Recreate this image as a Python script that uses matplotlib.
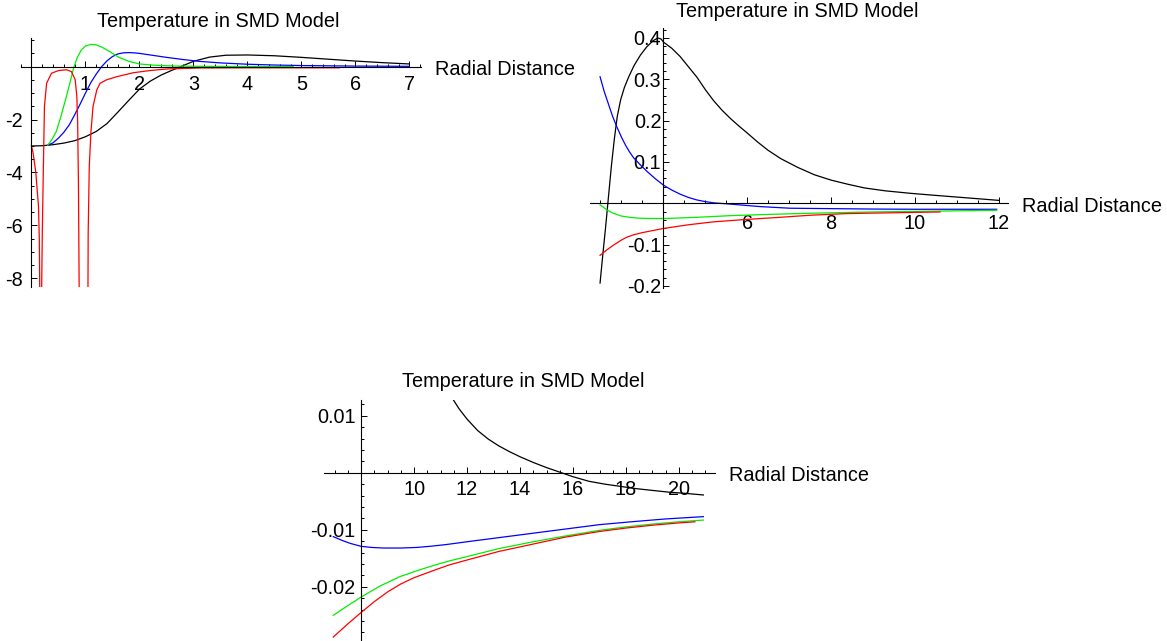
import numpy as np
import matplotlib
matplotlib.use("Agg")
import matplotlib.pyplot as plt

plt.rcParams['font.family'] = ['Liberation Sans', 'DejaVu Sans']
plt.rcParams['axes.unicode_minus'] = False

W, H = 1167, 641

# ---- panel 1 (r from 0 to 7) ----
p1_black_x = [0, 0.2, 0.4, 0.6, 0.8, 1.0, 1.2, 1.4, 1.6, 1.8, 2.0, 2.2, 2.4, 2.6, 2.8,
              3.0, 3.3, 3.6, 4.0, 4.5, 5.0, 5.5, 6.0, 6.5, 7.0]
p1_black_y = [-3.0, -2.99, -2.95, -2.89, -2.80, -2.65, -2.45, -2.15, -1.72, -1.28, -0.85,
              -0.55, -0.32, -0.14, 0.03, 0.2, 0.36, 0.43, 0.44, 0.41, 0.35, 0.28, 0.21, 0.15, 0.1]
p1_blue_x = [0.3, 0.4, 0.5, 0.6, 0.7, 0.8, 0.9, 1.0, 1.1, 1.2, 1.3, 1.4, 1.5, 1.6, 1.7,
             1.8, 1.9, 2.0, 2.2, 2.5, 2.8, 3.1, 3.5, 4.0, 4.5, 5.0, 6.0, 7.0]
p1_blue_y = [-2.97, -2.88, -2.7, -2.48, -2.2, -1.82, -1.42, -1.0, -0.6, -0.28, 0.0, 0.22,
             0.38, 0.48, 0.52, 0.53, 0.52, 0.5, 0.44, 0.35, 0.27, 0.2, 0.14, 0.09, 0.06,
             0.04, 0.02, 0.01]
p1_green_x = [0.3, 0.38, 0.46, 0.55, 0.65, 0.72, 0.78, 0.85, 0.92, 1.0, 1.1, 1.2, 1.3,
              1.45, 1.6, 1.8, 2.0, 2.3, 2.7, 3.2, 4.0, 4.85]
p1_green_y = [-2.97, -2.75, -2.45, -1.85, -1.1, -0.55, -0.05, 0.35, 0.62, 0.78, 0.84, 0.82,
              0.74, 0.57, 0.37, 0.2, 0.1, 0.05, 0.02, 0.01, 0.005, 0.003]
# red has two poles, so it is kept as three branches
p1_red_a_x = [0, 0.03, 0.08, 0.13, 0.145, 0.155]
p1_red_a_y = [-3.0, -3.27, -4.0, -5.3, -6.55, -9.0]
p1_red_b_x = [0.185, 0.2, 0.22, 0.24, 0.28, 0.37, 0.5, 0.65, 0.74, 0.81, 0.84, 0.855, 0.87, 0.885]
p1_red_b_y = [-9.0, -6.3, -3.8, -1.5, -0.63, -0.25, -0.15, -0.12, -0.19, -0.5, -1.13, -2.1,
              -4.5, -9.0]
p1_red_c_x = [1.045, 1.05, 1.07, 1.1, 1.14, 1.21, 1.27, 1.39, 1.58, 1.89, 2.19, 2.5, 3.12,
              4.0, 5.0, 5.7]
p1_red_c_y = [-9.0, -6.3, -3.8, -2.5, -1.5, -0.88, -0.63, -0.5, -0.38, -0.23, -0.15, -0.09,
              -0.05, -0.045, -0.045, -0.045]

# ---- panel 2 (r from 2.5 to 12) ----
p2_black_x = [2.49, 2.55, 2.62, 2.69, 2.76, 2.83, 2.9, 2.98, 3.07, 3.17, 3.3, 3.45, 3.6,
              3.75, 3.87, 3.95, 4.0, 4.2, 4.4, 4.6, 4.8, 5.0, 5.2, 5.4, 5.6, 5.8, 6.0, 6.25,
              6.5, 6.8, 7.2, 7.6, 8.0, 8.4, 8.8, 9.3, 9.9, 10.5, 11.0, 11.5, 12.0]
p2_black_y = [-0.193, -0.13, -0.06, 0.015, 0.09, 0.155, 0.21, 0.25, 0.28, 0.305, 0.333,
              0.358, 0.378, 0.393, 0.40, 0.397, 0.39, 0.375, 0.355, 0.33, 0.305, 0.275,
              0.248, 0.225, 0.205, 0.187, 0.17, 0.148, 0.128, 0.108, 0.087, 0.069, 0.056,
              0.046, 0.037, 0.030, 0.024, 0.019, 0.015, 0.011, 0.007]
p2_blue_x = [2.49, 2.59, 2.69, 2.79, 2.89, 3.0, 3.1, 3.2, 3.29, 3.45, 3.6, 3.8, 4.0, 4.2,
             4.4, 4.6, 4.8, 5.0, 5.2, 5.59, 6.3, 7.02, 8.0, 9.0, 10.0, 11.0, 11.95]
p2_blue_y = [0.306, 0.27, 0.24, 0.21, 0.185, 0.16, 0.14, 0.123, 0.11, 0.093, 0.078, 0.06,
             0.044, 0.032, 0.022, 0.014, 0.008, 0.004, 0.001, -0.002, -0.008, -0.012,
             -0.013, -0.014, -0.0145, -0.0145, -0.0145]
p2_green_x = [2.49, 2.55, 2.65, 2.8, 3.0, 3.2, 3.4, 3.7, 4.0, 4.8, 5.59, 6.5, 7.58, 9.0,
              10.5, 11.95]
p2_green_y = [-0.004, -0.008, -0.016, -0.024, -0.031, -0.034, -0.036, -0.037, -0.037,
              -0.034, -0.030, -0.027, -0.024, -0.021, -0.019, -0.017]
p2_red_x = [2.49, 2.65, 2.8, 3.0, 3.13, 3.3, 3.5, 3.75, 4.0, 4.6, 5.19, 6.0, 6.78, 7.5,
            8.37, 9.5, 10.6]
p2_red_y = [-0.126, -0.113, -0.102, -0.089, -0.082, -0.076, -0.071, -0.066, -0.061, -0.052,
            -0.045, -0.039, -0.034, -0.029, -0.025, -0.023, -0.021]

# ---- panel 3 (r from 7 to 21) ----
p3_black_x = [11.48, 11.7, 12.0, 12.4, 12.8, 13.2, 13.6, 14.0, 14.5, 15.0, 15.5, 16.0,
              16.6, 17.2, 17.8, 18.4, 19.0, 19.6, 20.2, 20.92]
p3_black_y = [0.0128, 0.0112, 0.0094, 0.0074, 0.0059, 0.0047, 0.0037, 0.0028, 0.0018,
              0.0009, 0.0001, -0.0007, -0.0015, -0.002, -0.0024, -0.0028, -0.0031, -0.0034,
              -0.0036, -0.0039]
p3_blue_x = [6.95, 7.3, 7.6, 8.0, 8.4, 8.84, 9.5, 10.1, 10.6, 11.2, 12.0, 13.0, 14.5, 16.0,
             17.0, 18.2, 19.5, 20.92]
p3_blue_y = [-0.0112, -0.0119, -0.0124, -0.0129, -0.0131, -0.0132, -0.0132, -0.0131,
             -0.0129, -0.0126, -0.0121, -0.0115, -0.0106, -0.0097, -0.0091, -0.0086,
             -0.0081, -0.0077]
p3_green_x = [6.95, 7.4, 8.0, 8.7, 9.47, 10.1, 10.7, 11.3, 12.0, 13.2, 14.5, 15.7, 17.0,
              18.0, 19.0, 20.0, 20.92]
p3_green_y = [-0.025, -0.0236, -0.0218, -0.0199, -0.0182, -0.0172, -0.0163, -0.0155, -0.0147,
              -0.0133, -0.0121, -0.0111, -0.0101, -0.0095, -0.009, -0.0086, -0.0083]
p3_red_x = [6.95, 7.5, 8.0, 8.5, 9.0, 9.5, 10.0, 10.7, 11.3, 12.0, 13.2, 14.5, 15.7, 17.0,
            18.0, 19.0, 20.0, 20.6]
p3_red_y = [-0.0288, -0.0265, -0.0245, -0.0226, -0.0209, -0.0195, -0.0184, -0.0172, -0.0162,
            -0.0153, -0.0138, -0.0125, -0.0113, -0.0103, -0.0097, -0.0092, -0.0088, -0.0086]

p1_xticks = [1, 2, 3, 4, 5, 6, 7]
p1_yticks = [-8, -6, -4, -2]
p2_xticks = [6, 8, 10, 12]
p2_yticks = [-0.2, -0.1, 0.1, 0.2, 0.3, 0.4]
p3_xticks = [10, 12, 14, 16, 18, 20]
p3_yticks = [-0.02, -0.01, 0.01]

title = "Temperature in SMD Model"
xlabel = "Radial Distance"

LW = 0.9
FS = 14.3
GREEN = '#00ee00'


def add_panel(fig, left, top, right, bottom):
    return fig.add_axes([left / W, 1 - bottom / H, (right - left) / W, (bottom - top) / H])


def style_axes(ax, x_cross, xlim, ylim, xticks, yticks, xminor, yminor, xpad, ypad):
    ax.set_xlim(*xlim)
    ax.set_ylim(*ylim)
    ax.patch.set_visible(False)
    ax.spines['top'].set_visible(False)
    ax.spines['right'].set_visible(False)
    ax.spines['left'].set_position(('data', x_cross))
    ax.spines['bottom'].set_position(('data', 0))
    for s in ('left', 'bottom'):
        ax.spines[s].set_linewidth(0.8)
    ax.set_xticks(xticks, [str(t) for t in xticks])
    ax.set_yticks(yticks, [str(t) for t in yticks])
    ax.set_xticks(xminor, minor=True)
    ax.set_yticks(yminor, minor=True)
    ax.tick_params(which='both', direction='in', width=0.7, labelsize=FS)
    ax.tick_params(which='major', length=4)
    ax.tick_params(which='minor', length=2.5)
    ax.tick_params(axis='x', pad=xpad)
    ax.tick_params(axis='y', pad=ypad)
    ax.annotate(xlabel, xy=(1, 0), xycoords=('axes fraction', 'data'),
                xytext=(14, -3), textcoords='offset pixels', va='center', ha='left',
                fontsize=FS, annotation_clip=False)


fig = plt.figure(figsize=(W / 100, H / 100), dpi=100)

# panel 1
ax1 = add_panel(fig, 20.7, 38.3, 420.7, 286.5)
ax1.plot(p1_black_x, p1_black_y, color='black', lw=LW)
ax1.plot(p1_blue_x, p1_blue_y, color='#0000ff', lw=LW)
ax1.plot(p1_green_x, p1_green_y, color=GREEN, lw=LW)
ax1.plot(p1_red_a_x, p1_red_a_y, color='#ff0000', lw=LW)
ax1.plot(p1_red_b_x, p1_red_b_y, color='#ff0000', lw=LW)
ax1.plot(p1_red_c_x, p1_red_c_y, color='#ff0000', lw=LW)
style_axes(ax1, 0, (-0.2, 7.21), (-8.31, 1.07), p1_xticks, p1_yticks,
           np.arange(-0.2, 7.21, 0.2), np.arange(-8, 1.01, 0.5), 6, 6)

# panel 2
ax2 = add_panel(fig, 590, 28, 1008, 288)
ax2.plot(p2_black_x, p2_black_y, color='black', lw=LW)
ax2.plot(p2_blue_x, p2_blue_y, color='#0000ff', lw=LW)
ax2.plot(p2_green_x, p2_green_y, color=GREEN, lw=LW)
ax2.plot(p2_red_x, p2_red_y, color='#ff0000', lw=LW)
style_axes(ax2, 4, (2.25, 12.22), (-0.205, 0.424), p2_xticks, p2_yticks,
           np.arange(2.5, 12.01, 0.5), np.arange(-0.2, 0.421, 0.02), 7.5, 1.5)

# panel 3
ax3 = add_panel(fig, 324, 400, 715, 641)
ax3.plot(p3_black_x, p3_black_y, color='black', lw=LW)
ax3.plot(p3_blue_x, p3_blue_y, color='#0000ff', lw=LW)
ax3.plot(p3_green_x, p3_green_y, color=GREEN, lw=LW)
ax3.plot(p3_red_x, p3_red_y, color='#ff0000', lw=LW)
style_axes(ax3, 8, (6.6, 21.36), (-0.0295, 0.01275), p3_xticks, p3_yticks,
           np.arange(7, 21.01, 0.5), np.arange(-0.028, 0.0121, 0.002), 5.5, 4)

for cx, by in [(218, 26.7), (797, 16.7), (523, 386.7)]:
    fig.text(cx / W, 1 - by / H, title, ha='center', va='baseline', fontsize=FS)

fig.savefig('out.png', dpi=100)
